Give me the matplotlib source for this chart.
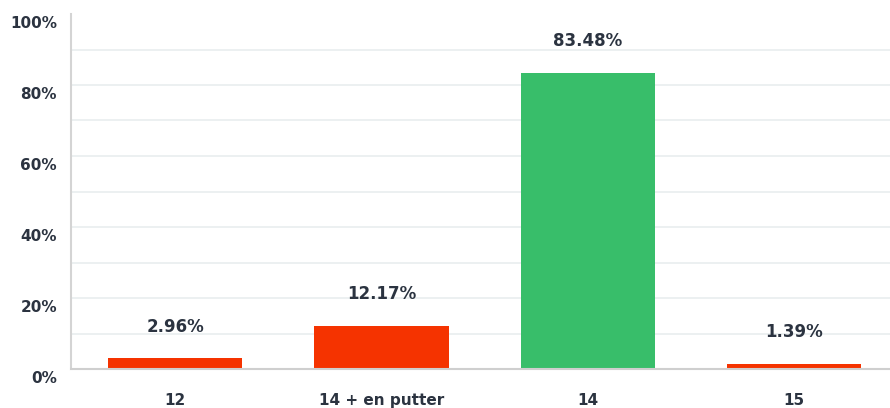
import matplotlib
matplotlib.use("Agg")
import matplotlib.pyplot as plt
import matplotlib.transforms as mtransforms
from matplotlib.ticker import MultipleLocator, FuncFormatter

# data
categories = ["12", "14 + en putter", "14", "15"]
values = [2.96, 12.17, 83.48, 1.39]
bar_colors = ["#f53300", "#f53300", "#38be6a", "#f53300"]

text_col = "#2b3340"
plt.rcParams['font.family'] = ['DejaVu Sans']

fig = plt.figure(figsize=(8.9, 4.08), dpi=100)
ax = fig.add_axes([71/890, 39/408, 1 - 71/890, (369-14)/408])

x = range(len(categories))
bars = ax.bar(x, values, width=0.65, color=bar_colors, zorder=3)

for xi, v in zip(x, values):
    ax.annotate(f"{v:.2f}%", (xi, v), xytext=(0, 23), textcoords="offset points",
                ha="center", va="center", fontsize=12, fontweight="bold", color=text_col)

ax.set_ylim(0, 100)
ax.set_xlim(-0.505, 3.465)
ax.yaxis.set_major_locator(MultipleLocator(20))
ax.yaxis.set_minor_locator(MultipleLocator(10))
ax.yaxis.set_major_formatter(FuncFormatter(lambda v, p: f"{v:.0f}%"))
ax.grid(axis="y", which="both", color="#e9edef", linewidth=1.2, zorder=0)
ax.set_axisbelow(True)

ax.set_xticks(list(x))
ax.set_xticklabels(categories)
ax.tick_params(axis="x", length=0, pad=17, labelsize=11, labelcolor=text_col)
ax.tick_params(axis="y", which="both", length=0, pad=10, labelsize=11, labelcolor=text_col)
for lbl in ax.get_xticklabels() + ax.get_yticklabels():
    lbl.set_fontweight("bold")

# no gridline on the 100% top
for t in ax.yaxis.get_major_ticks():
    if t.get_loc() >= 100:
        t.gridline.set_visible(False)

# y labels sit a bit below their gridline
off = mtransforms.ScaledTranslation(0, -6/72, fig.dpi_scale_trans)
for lbl in ax.get_yticklabels():
    lbl.set_transform(lbl.get_transform() + off)

for s in ["top", "right"]:
    ax.spines[s].set_visible(False)
ax.spines["left"].set_color("#d4d4d4")
ax.spines["left"].set_linewidth(1.5)
ax.spines["bottom"].set_color("#cfcfcf")
ax.spines["bottom"].set_linewidth(1.5)
ax.spines["bottom"].set_zorder(4)

fig.savefig("out.png", dpi=100)
